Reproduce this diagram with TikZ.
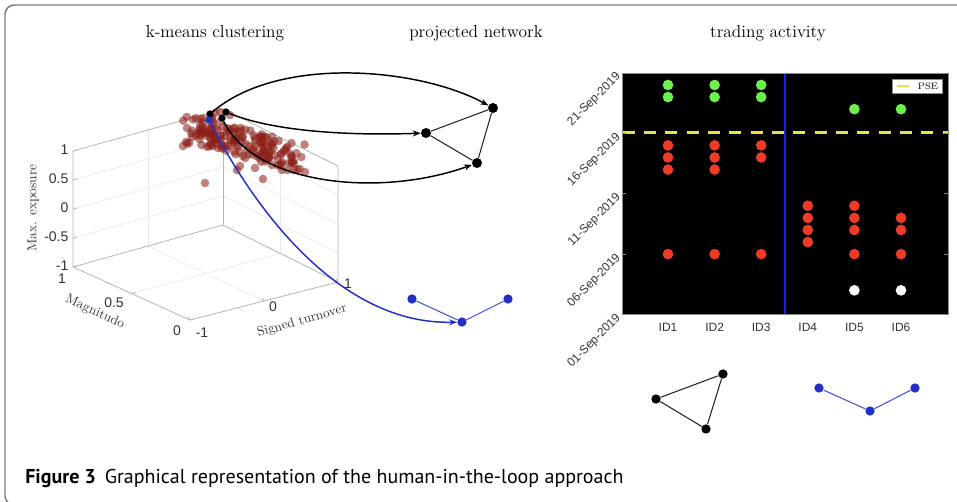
\documentclass[tikz,border=0pt]{standalone}
\usepackage{fontspec}
\newfontfamily\capfont{PT Sans}
\newfontfamily\axfont{Liberation Sans}
\usetikzlibrary{arrows.meta}
\definecolor{framegray}{HTML}{7A7A7A}
\definecolor{boxgray}{HTML}{B5B5B5}
\definecolor{gridgray}{HTML}{E8E8E8}
\definecolor{ticktext}{HTML}{333333}
\definecolor{scred}{HTML}{8A1E16}
\definecolor{netblue}{HTML}{2230C8}
\definecolor{edgeblue}{HTML}{4656D8}
\definecolor{dotgreen}{HTML}{6CF04A}
\definecolor{dotred}{HTML}{EE3A26}
\definecolor{pseyellow}{HTML}{E8E23A}
\definecolor{vblue}{HTML}{1424F0}
\definecolor{plotframe}{HTML}{8A8A8A}
\begin{document}
\begin{tikzpicture}[x=0.75pt,y=-0.75pt,
  declare function={px(\k)=668+(\k-1)*46.6; py(\d)=314.5-(\d-1)*12.08;},
  title/.style={font=\fontsize{13}{15}\selectfont, inner sep=0pt},
  ticklab/.style={font=\axfont\fontsize{10.5}{12}\selectfont, text=ticktext, inner sep=1pt},
  axlab/.style={font=\fontsize{10}{12}\selectfont, text=ticktext, inner sep=0pt},
  gridline/.style={draw=gridgray, line width=0.5pt},
  boxline/.style={draw=boxgray, line width=0.6pt},
  scdot/.style={fill=scred, fill opacity=0.55},
  srcdot/.style={circle, fill=black, inner sep=0pt, minimum size=5.5pt},
  srcblue/.style={circle, fill=netblue, inner sep=0pt, minimum size=5.5pt},
  pnode/.style={circle, fill=black, inner sep=0pt, minimum size=7.5pt},
  bnode/.style={circle, fill=netblue, inner sep=0pt, minimum size=7pt},
  knode/.style={circle, fill=black, inner sep=0pt, minimum size=7pt},
  netedge/.style={draw=black!85, line width=0.8pt},
  bedge/.style={draw=edgeblue, line width=0.8pt},
  harrow/.style={draw=black, line width=1.1pt, -{Stealth[length=6pt,width=4.5pt]}},
  barrow/.style={draw=netblue, line width=1.1pt, -{Stealth[length=6pt,width=4.5pt]}},
  tdot/.style={circle, inner sep=0pt, minimum size=8pt},
  datelab/.style={font=\axfont\fontsize{9}{10}\selectfont, text=ticktext, rotate=45, anchor=east, inner sep=0pt},
  idlab/.style={font=\axfont\fontsize{9}{10}\selectfont, text=ticktext, inner sep=0pt}
]
\useasboundingbox (0,0) rectangle (957,501);
% frame
\begin{scope}
\clip (0,0) rectangle (957,501);
\draw[framegray, line width=1.1pt, rounded corners=7pt] (975,5) -- (5,5) -- (5,505) -- (30,505);
\end{scope}
% titles
\node[title] (t1) at (215,33) {k-means clustering};
\node[title] (t2) at (476,33) {projected network};
\node[title] (t3) at (768,33) {trading activity};

% ---------- 3D box ----------
\coordinate (L0) at (73,267);
\coordinate (F0) at (190,320);
\coordinate (R0) at (338,282);
\coordinate (B0) at (223,225);
\coordinate (L1) at (73,151);
\coordinate (B1) at (223,109);
\coordinate (R1) at (338,166);
\foreach \dz in {29,58,87}{
  \draw[gridline] (73,{267-\dz}) -- (223,{225-\dz}) -- (338,{282-\dz});
}
\draw[gridline] (148,246) -- (148,130);
\draw[gridline] (280.5,253.5) -- (280.5,137.5);
\draw[gridline] (131.5,293.5) -- (280.5,253.5);
\draw[gridline] (148,246) -- (264,301);
\draw[boxline] (L1) -- (B1) -- (R1) -- (R0) -- (F0) -- (L0) -- cycle;
\draw[boxline] (L0) -- (B0) -- (R0);
\draw[boxline] (B0) -- (B1);
% ticks
\foreach \zz in {0,29,58,87,116}{
  \draw[boxline] (73,{267-\zz}) -- (77,{266-\zz});
}
\foreach \tt in {0,0.5,1}{
  \draw[boxline] ({73+117*\tt},{267+53*\tt}) -- ({77+117*\tt},{266+53*\tt});
  \draw[boxline] ({190+148*\tt},{320-38*\tt}) -- ({188+148*\tt},{317-38*\tt});
}
% tick labels
\node[ticklab, anchor=east] (z1) at (70,150) {1};
\node[ticklab, anchor=east] (z2) at (70,179) {0.5};
\node[ticklab, anchor=east] (z3) at (70,208) {0};
\node[ticklab, anchor=east] (z4) at (70,237) {-0.5};
\node[ticklab, anchor=east] (z5) at (70,266) {-1};
\node[ticklab] (m1) at (62,279) {1};
\node[ticklab] (m2) at (114,303) {0.5};
\node[ticklab] (m3) at (177,331) {0};
\node[ticklab] (s1l) at (202,333) {-1};
\node[ticklab] (s2l) at (273,307) {0};
\node[ticklab] (s3l) at (348,284) {1};
\node[axlab, rotate=90] (zlab) at (33,208) {Max. exposure};
\node[axlab, rotate=-25] (mlab) at (95,312) {Magnitudo};
\node[axlab, rotate=16] (slab) at (302,321) {Signed turnover};

% scatter cloud
\pgfmathsetseed{4711}
\foreach \i in {1,...,170}{
  \pgfmathsetmacro\rr{rnd}
  \pgfmathsetmacro\tt{\rr^1.15}
  \pgfmathsetmacro\ax{190+108*\tt+7*rand}
  \pgfmathsetmacro\ay{129+29*\tt+14*rand}
  \fill[scdot] (\ax,\ay) circle[radius=4.3];
}
\foreach \ax/\ay in {183/146, 205/183, 263/179, 237/170, 282/170, 305/172, 294/170, 187/128, 200/125, 215/113, 220/112, 212/117, 230/115, 292/162, 240/166, 255/168, 272/165}{
  \fill[scdot] (\ax,\ay) circle[radius=4.3];
}

% source nodes
\node[srcdot] (s1) at (210,114) {};
\node[srcdot] (s2) at (226,112) {};
\node[srcdot] (s3) at (222,118) {};
\node[srcblue] (sb) at (209,120) {};

% projected network
\node[pnode] (p1) at (493,108) {};
\node[pnode] (p2) at (426,133) {};
\node[pnode] (p3) at (477,163) {};
\draw[netedge] (p2) -- (p1);
\draw[netedge] (p2) -- (p3);
\draw[netedge] (p3) -- (p1);
\draw[harrow] (s1) .. controls (280,55) and (420,68) .. (p1);
\draw[harrow] (s2) .. controls (270,130) and (340,136) .. (p2);
\draw[harrow] (s3) .. controls (255,185) and (380,198) .. (p3);

% blue network
\node[bnode] (q1) at (412,299) {};
\node[bnode] (q2) at (462,322) {};
\node[bnode] (q3) at (508,299) {};
\draw[bedge] (q1) -- (q2) -- (q3);
\draw[barrow] (sb) .. controls (255,210) and (340,325) .. (q2);

% ---------- trading activity ----------
\node[draw=plotframe, fill=black, line width=0.6pt, minimum width=244.5pt, minimum height=180.75pt, inner sep=0pt, anchor=north west] (plot) at (622,73) {};
\draw[vblue, line width=1.6pt] (785,73.5) -- (785,313.5);
\draw[pseyellow, line width=2pt, dash pattern=on 9pt off 7pt] (622.5,{py(16.05)}) -- (947.5,{py(16.05)});
\foreach \k/\d/\c in {1/20/dotgreen,1/19/dotgreen,2/20/dotgreen,2/19/dotgreen,3/20/dotgreen,3/19/dotgreen,5/18/dotgreen,6/18/dotgreen,
  1/15/dotred,1/14/dotred,1/13/dotred,1/6/dotred,
  2/15/dotred,2/14/dotred,2/13/dotred,2/6/dotred,
  3/15/dotred,3/14/dotred,3/6/dotred,
  4/10/dotred,4/9/dotred,4/8/dotred,4/7/dotred,
  5/10/dotred,5/9/dotred,5/8/dotred,5/6/dotred,
  6/9/dotred,6/8/dotred,6/6/dotred,
  5/3/white,6/3/white}{
  \node[tdot, fill=\c] (d\k-\d) at ({px(\k)},{py(\d)}) {};
}
% legend
\node[draw=plotframe, fill=white, line width=0.5pt, minimum width=37.5pt, minimum height=10.5pt, inner sep=0pt] (leg) at (917,86) {};
\draw[pseyellow, line width=2pt] (897,86) -- (909,86);
\node[font=\fontsize{7}{8}\selectfont, inner sep=0pt] (legt) at (928,86) {PSE};
% axis ticks and labels
\foreach \d/\lab in {1/01-Sep-2019,6/06-Sep-2019,11/11-Sep-2019,16/16-Sep-2019,21/21-Sep-2019}{
  \draw[plotframe, line width=0.5pt] (622,{py(\d)}) -- (626,{py(\d)});
  \draw[plotframe, line width=0.5pt] (948,{py(\d)}) -- (944,{py(\d)});
  \node[datelab] (lab\d) at (619,{py(\d)+2}) {\lab};
}
\foreach \k in {1,...,6}{
  \node[idlab] (id\k) at ({px(\k)},327) {ID\k};
}

% bottom networks
\node[knode] (k1) at (723,374) {};
\node[knode] (k2) at (656,399) {};
\node[knode] (k3) at (706,429) {};
\draw[netedge] (k1) -- (k2) -- (k3) -- (k1);
\node[bnode] (u1) at (819,388) {};
\node[bnode] (u2) at (870,411) {};
\node[bnode] (u3) at (915,388) {};
\draw[bedge] (u1) -- (u2) -- (u3);

% caption
\node[anchor=west, inner sep=0pt, font=\capfont\fontsize{15}{17}\selectfont] (cap) at (25,478) {\textbf{Figure 3}\hspace{0.45em}Graphical representation of the human-in-the-loop approach};
\end{tikzpicture}
\end{document}
